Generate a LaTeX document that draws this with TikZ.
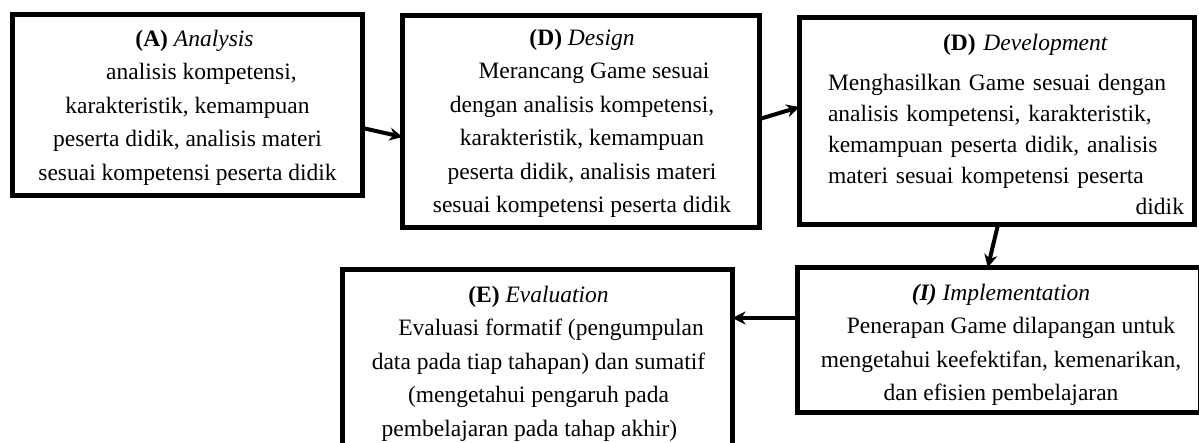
\documentclass[tikz,border=0pt]{standalone}
\usepackage{fontspec}
\setmainfont{Liberation Serif}
\usetikzlibrary{arrows.meta}
\tikzset{
  stagebox/.style={draw=black, line width=5pt, rectangle, inner sep=0pt, outer sep=0pt},
  stagetext/.style={inner sep=0pt, outer sep=0pt, font=\fontsize{23.5}{33.5}\selectfont},
  flow/.style={line width=4pt, -{Stealth[length=13pt,width=13pt]}}
}
\begin{document}
\begin{tikzpicture}[x=1pt,y=1pt]
\useasboundingbox (0,0) rectangle (1199,-443);
% boxes (centre lines)
\node[stagebox, minimum width=350pt, minimum height=181pt] (A) at (187.5,-105) {};
\node[stagebox, minimum width=357pt, minimum height=212pt] (Ds) at (581,-121.5) {};
\node[stagebox, minimum width=395pt, minimum height=207pt] (Dv) at (997,-121) {};
\node[stagebox, minimum width=390pt, minimum height=175.5pt] (E) at (537.5,-357.25) {};
\node[stagebox, minimum width=402.5pt, minimum height=145pt] (I) at (998.75,-340) {};
% texts
\node[stagetext, align=center, anchor=north] (At) at (187.5,-30)
  {\hspace*{14pt}\textbf{(A)} \textit{Analysis}\\
   \hspace*{28pt}analisis kompetensi,\\
   karakteristik, kemampuan\\
   peserta didik, analisis materi\\
   sesuai kompetensi peserta didik};
\node[stagetext, align=center, anchor=north] (Dst) at (582,-29)
  {\textbf{(D)} \textit{Design}\\
   \hspace*{24pt}Merancang Game sesuai\\
   dengan analisis kompetensi,\\
   karakteristik, kemampuan\\
   peserta didik, analisis materi\\
   sesuai kompetensi peserta didik};
\node[stagetext, font=\fontsize{23.5}{31}\selectfont, align=left, text width=356pt, anchor=north west] (Dvt) at (828,-34)
  {\hspace*{115pt}\textbf{(D)} \textit{Development}\\[9pt]
   Menghasilkan Game sesuai dengan\\
   analisis kompetensi, karakteristik,\\
   kemampuan peserta didik, analisis\\
   materi sesuai kompetensi peserta\\
   \hspace*{\fill}didik};
\node[stagetext, align=center, anchor=north] (Et) at (538.5,-286)
  {\textbf{(E)} \textit{Evaluation}\\
   \hspace*{25pt}Evaluasi formatif (pengumpulan\\
   data pada tiap tahapan) dan sumatif\\
   (mengetahui pengaruh pada\\
   pembelajaran pada tahap akhir)\hspace*{18pt}};
\node[stagetext, align=center, anchor=north] (It) at (1001,-284)
  {\textbf{\textit{(I)}} \textit{Implementation}\\
   \hspace*{20pt}Penerapan Game dilapangan untuk\\
   mengetahui keefektifan, kemenarikan,\\
   dan efisien pembelajaran};
% connectors
\draw[flow] ([yshift=-23pt]A.east) -- ([yshift=-15.5pt]Ds.west);
\draw[flow] ([yshift=2.5pt]Ds.east) -- ([yshift=14pt]Dv.west);
\draw[flow] ([xshift=1pt]Dv.south) -- ([xshift=-11pt]I.north);
\coordinate (iw) at ([yshift=22pt]I.west);
\draw[flow] (iw) -- (iw -| E.east);
\end{tikzpicture}
\end{document}
